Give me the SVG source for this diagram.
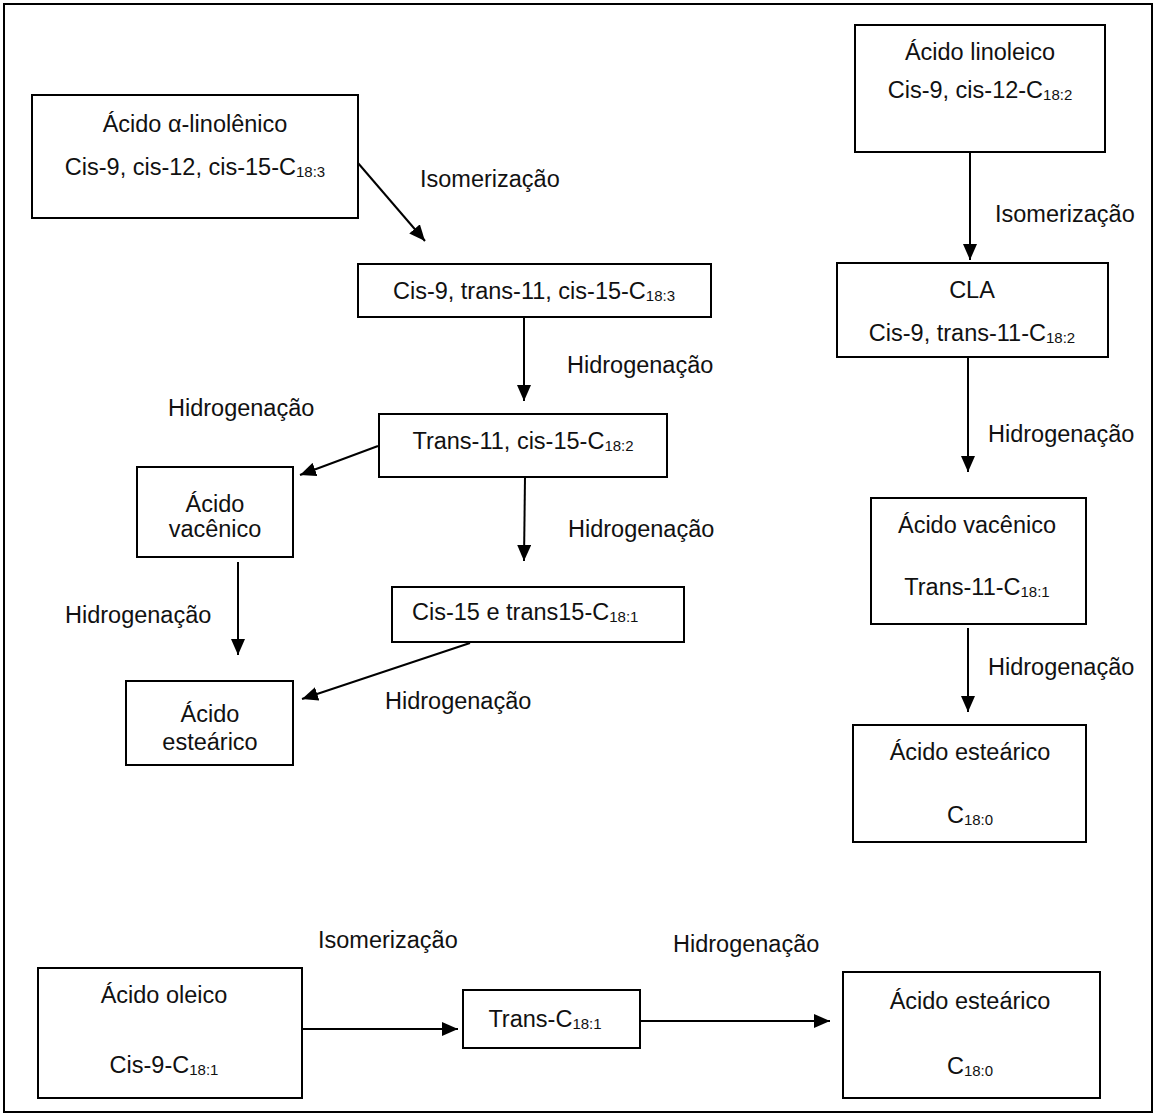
<svg xmlns="http://www.w3.org/2000/svg" width="1155" height="1115" viewBox="0 0 1155 1115">
<defs>
<marker id="ah" markerUnits="userSpaceOnUse" markerWidth="16" markerHeight="14" refX="16" refY="7" orient="auto">
<path d="M0,0 L16,7 L0,14 z" fill="#000"/>
</marker>
<style>
rect.n{fill:#fff;stroke:#000;stroke-width:2}
text{font-family:"Liberation Sans",Arial,sans-serif;font-size:23.5px;fill:#111}
text.m{text-anchor:middle}
tspan.s{font-size:15px}
.c line{stroke:#000;stroke-width:2;marker-end:url(#ah)}
</style>
</defs>
<rect x="0" y="0" width="1155" height="1115" fill="#fff"/>
<rect x="4" y="4" width="1148" height="1108" fill="none" stroke="#000" stroke-width="2"/>

<g id="alinolenico">
<rect class="n" x="32" y="95" width="326" height="123"/>
<text class="m" x="195" y="132">Ácido α-linolênico</text>
<text class="m" x="195" y="175">Cis-9, cis-12, cis-15-C<tspan class="s" dy="2">18:3</tspan></text>
</g>
<g id="c9t11c15">
<rect class="n" x="358" y="264" width="353" height="53"/>
<text class="m" x="534" y="299">Cis-9, trans-11, cis-15-C<tspan class="s" dy="2">18:3</tspan></text>
</g>
<g id="t11c15">
<rect class="n" x="379" y="414" width="288" height="63"/>
<text class="m" x="523" y="449">Trans-11, cis-15-C<tspan class="s" dy="2">18:2</tspan></text>
</g>
<g id="c15t15">
<rect class="n" x="392" y="587" width="292" height="55"/>
<text x="412" y="620">Cis-15 e trans15-C<tspan class="s" dy="2">18:1</tspan></text>
</g>
<g id="vacenico1">
<rect class="n" x="137" y="467" width="156" height="90"/>
<text class="m" x="215" y="512">Ácido</text>
<text class="m" x="215" y="537">vacênico</text>
</g>
<g id="estearico1">
<rect class="n" x="126" y="681" width="167" height="84"/>
<text class="m" x="210" y="722">Ácido</text>
<text class="m" x="210" y="750">esteárico</text>
</g>

<g id="linoleico">
<rect class="n" x="855" y="25" width="250" height="127"/>
<text class="m" x="980" y="60">Ácido linoleico</text>
<text class="m" x="980" y="98">Cis-9, cis-12-C<tspan class="s" dy="2">18:2</tspan></text>
</g>
<g id="cla">
<rect class="n" x="837" y="263" width="271" height="94"/>
<text class="m" x="972" y="298">CLA</text>
<text class="m" x="972" y="341">Cis-9, trans-11-C<tspan class="s" dy="2">18:2</tspan></text>
</g>
<g id="vacenico2">
<rect class="n" x="871" y="498" width="215" height="126"/>
<text class="m" x="977" y="533">Ácido vacênico</text>
<text class="m" x="977" y="595">Trans-11-C<tspan class="s" dy="2">18:1</tspan></text>
</g>
<g id="estearico2">
<rect class="n" x="853" y="725" width="233" height="117"/>
<text class="m" x="970" y="760">Ácido esteárico</text>
<text class="m" x="970" y="823">C<tspan class="s" dy="2">18:0</tspan></text>
</g>

<g id="oleico">
<rect class="n" x="38" y="968" width="264" height="130"/>
<text class="m" x="164" y="1003">Ácido oleico</text>
<text class="m" x="164" y="1073">Cis-9-C<tspan class="s" dy="2">18:1</tspan></text>
</g>
<g id="transc181">
<rect class="n" x="463" y="990" width="177" height="58"/>
<text class="m" x="545" y="1027">Trans-C<tspan class="s" dy="2">18:1</tspan></text>
</g>
<g id="estearico3">
<rect class="n" x="843" y="972" width="257" height="126"/>
<text class="m" x="970" y="1009">Ácido esteárico</text>
<text class="m" x="970" y="1074">C<tspan class="s" dy="2">18:0</tspan></text>
</g>

<g id="connectors" class="c">
<line x1="358" y1="163" x2="425" y2="241"/>
<line x1="524" y1="317" x2="524" y2="401"/>
<line x1="525" y1="477" x2="524" y2="561"/>
<line x1="378" y1="446" x2="300" y2="475"/>
<line x1="470" y1="643" x2="302" y2="699"/>
<line x1="238" y1="562" x2="238" y2="655"/>
<line x1="970" y1="152" x2="970" y2="260"/>
<line x1="968" y1="357" x2="968" y2="472"/>
<line x1="968" y1="628" x2="968" y2="712"/>
<line x1="302" y1="1029" x2="458" y2="1029"/>
<line x1="640" y1="1021" x2="830" y2="1021"/>
</g>

<g id="labels">
<text x="420" y="187">Isomerização</text>
<text x="567" y="373">Hidrogenação</text>
<text x="568" y="537">Hidrogenação</text>
<text x="168" y="416">Hidrogenação</text>
<text x="65" y="623">Hidrogenação</text>
<text x="385" y="709">Hidrogenação</text>
<text x="995" y="222">Isomerização</text>
<text x="988" y="442">Hidrogenação</text>
<text x="988" y="675">Hidrogenação</text>
<text x="318" y="948">Isomerização</text>
<text x="673" y="952">Hidrogenação</text>
</g>
</svg>
